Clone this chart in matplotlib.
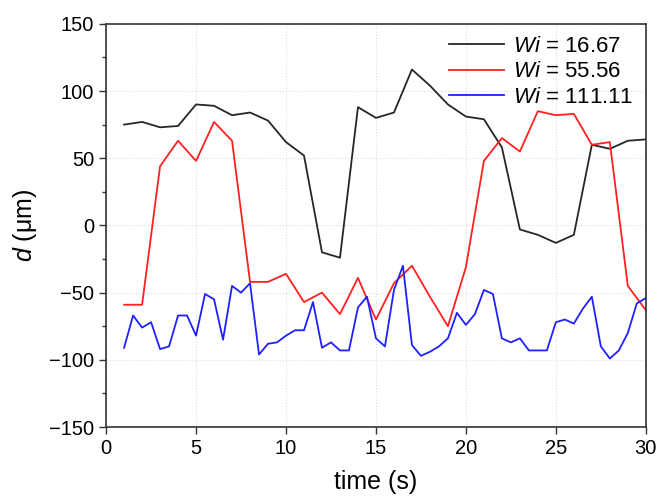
import matplotlib
matplotlib.use("Agg")
import matplotlib.pyplot as plt
import numpy as np
from matplotlib.ticker import MultipleLocator

plt.rcParams.update({
    "font.family": ["Liberation Sans", "DejaVu Sans"],
    "mathtext.fontset": "custom",
    "mathtext.rm": "Liberation Sans",
    "mathtext.it": "Liberation Sans:italic",
    "axes.unicode_minus": True,
})

# Wi = 16.67, sampled each second
t_1s = np.arange(1, 31)
d_16 = [75, 77, 73, 74, 90, 89, 82, 84, 78, 62,
        52, -20, -24, 88, 80, 84, 116, 104, 90, 81,
        79, 58, -3, -7, -13, -7, 60, 57, 63, 64]

# Wi = 55.56, sampled each second
d_55 = [-59, -59, 44, 63, 48, 77, 63, -42, -42, -36,
        -57, -50, -66, -39, -70, -43, -30, -53, -75, -31,
        48, 65, 55, 85, 82, 83, 60, 62, -45, -63]

# Wi = 111.11, sampled every half second
t_half = np.arange(1, 30.5, 0.5)
d_111 = [-91, -67, -76, -72, -92, -90, -67, -67, -82, -51,
         -55, -85, -45, -50, -43, -96, -88, -87, -82, -78,
         -78, -57, -91, -87, -93, -93, -61, -53, -84, -90,
         -48, -30, -89, -97, -94, -90, -84, -65, -74, -66,
         -48, -51, -84, -87, -84, -93, -93, -93, -72, -70,
         -73, -62, -53, -90, -99, -93, -80, -58, -54]

labels = ["$Wi$ = 16.67", "$Wi$ = 55.56", "$Wi$ = 111.11"]

fig = plt.figure(figsize=(6.59, 4.96), dpi=100)
ax = fig.add_axes([0.161, 0.139, 0.819, 0.813])

ax.plot(t_1s, d_16, color="#262626", lw=1.3, label=labels[0])
ax.plot(t_1s, d_55, color="#ff2020", lw=1.3, label=labels[1])
ax.plot(t_half, d_111, color="#2020ff", lw=1.3, label=labels[2])

ax.set_xlim(0, 30)
ax.set_ylim(-150, 150)
ax.xaxis.set_major_locator(MultipleLocator(5))
ax.yaxis.set_major_locator(MultipleLocator(50))
ax.yaxis.set_minor_locator(MultipleLocator(25))
ax.tick_params(which="both", direction="out", top=False, right=False,
               labelsize=14.5, color="#333333", width=1.0)
ax.tick_params(which="major", length=5)
ax.tick_params(which="minor", length=3)
ax.grid(True, which="major", color="#dddddd", ls=":", lw=0.8)
for s in ax.spines.values():
    s.set_color("#333333")
    s.set_linewidth(1.2)

ax.set_xlabel("time (s)", fontsize=18, labelpad=9)
ax.set_ylabel("$d$ (\u03bcm)", fontsize=18, labelpad=7)

ax.legend(loc="upper right", frameon=False, fontsize=16, handlelength=2.5,
          handletextpad=0.4, labelspacing=0.2, borderaxespad=0.15)

fig.savefig("out.png", dpi=100)
